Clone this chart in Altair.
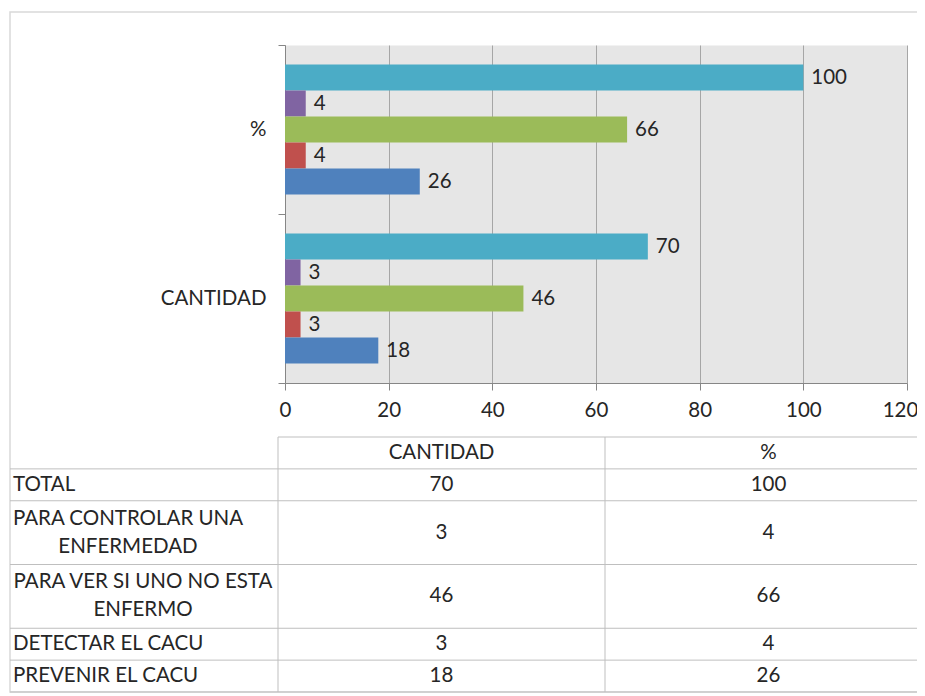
import altair as alt
import pandas as pd

# ---------------- data ----------------
categories = ["TOTAL", "PARA CONTROLAR UNA ENFERMEDAD", "PARA VER SI UNO NO ESTA ENFERMO",
              "DETECTAR EL CACU", "PREVENIR EL CACU"]
category_lines = ["TOTAL", "PARA CONTROLAR UNA\nENFERMEDAD", "PARA VER SI UNO NO ESTA\nENFERMO",
                  "DETECTAR EL CACU", "PREVENIR EL CACU"]
groups = ["%", "CANTIDAD"]
cantidad = [70, 3, 46, 3, 18]
porcentaje = [100, 4, 66, 4, 26]
table_columns = ["CANTIDAD", "%"]
x_ticks = [0, 20, 40, 60, 80, 100, 120]
colors = ["#4BACC6", "#8064A2", "#9BBB59", "#C0504D", "#4F81BD"]

FONT = "Lato"
FS = 20.5
TXT = "#262626"
LH = 28

# ---------------- bar chart ----------------
bar_rows = []
for g, vals in zip(groups, [porcentaje, cantidad]):
    for c, v in zip(categories, vals):
        bar_rows.append({"grupo": g, "serie": c, "valor": v})
bar_df = pd.DataFrame(bar_rows)

xenc = alt.X("valor:Q", scale=alt.Scale(domain=[0, 120], nice=False),
             axis=alt.Axis(values=x_ticks, title=None, grid=True, gridColor="#a6a6a6",
                           domainColor="#868686", tickColor="#868686", tickSize=7,
                           labelPadding=10, labelFontSize=FS, labelFont=FONT,
                           labelColor=TXT, labelFlush=False,
                           labelOffset={"condition": {"test": "datum.value == 120", "value": -7},
                                        "value": 0}))
yenc = alt.Y("grupo:N", sort=groups, scale=alt.Scale(paddingInner=0, paddingOuter=0),
             axis=alt.Axis(title=None, tickBand="extent", domainColor="#868686",
                           tickColor="#868686", tickSize=7, labelPadding=12,
                           labelFontSize=FS, labelFont=FONT, labelColor=TXT, grid=False))
yoff = alt.YOffset("serie:N", sort=categories,
                   scale=alt.Scale(paddingInner=0, paddingOuter=0.75))

bars = alt.Chart(bar_df).mark_bar().encode(
    x=xenc, y=yenc, yOffset=yoff,
    color=alt.Color("serie:N", sort=categories,
                    scale=alt.Scale(domain=categories, range=colors), legend=None),
)
bar_labels = alt.Chart(bar_df).mark_text(
    align="left", baseline="middle", dx=8, fontSize=FS, font=FONT, color=TXT
).encode(x=xenc, y=yenc, yOffset=yoff, text="valor:Q")

bar_layer = alt.layer(bars, bar_labels)

# ---------------- data table ----------------
line_counts = [s.count("\n") + 1 for s in category_lines]
bounds = [0]
for n in line_counts:
    bounds.append(bounds[-1] + n)
n_lines = bounds[-1]
centers = [(bounds[i] + bounds[i + 1]) / 2 for i in range(len(categories))]

TX = alt.Scale(domain=[0, 1, 3], range=[-275, -7, 647], zero=False, nice=False)
TY = alt.Scale(domain=[-1, n_lines], range=[392, 647], zero=False, nice=False)

h_rows = [{"tx": 1, "tx2": 3, "ty": -1}] + [{"tx": 0, "tx2": 3, "ty": b} for b in bounds]
h_df = pd.DataFrame(h_rows)
v_df = pd.DataFrame([{"tx": c, "ty": -1, "ty2": n_lines} for c in [1, 2]])

hlines = alt.Chart(h_df).mark_rule(color="#bfbfbf", strokeWidth=1).encode(
    x=alt.X("tx:Q", scale=TX, axis=None), x2="tx2:Q",
    y=alt.Y("ty:Q", scale=TY, axis=None))
vlines = alt.Chart(v_df).mark_rule(color="#bfbfbf", strokeWidth=1).encode(
    x=alt.X("tx:Q", scale=TX, axis=None),
    y=alt.Y("ty:Q", scale=TY, axis=None), y2="ty2:Q")

head_df = pd.DataFrame({"tx": [1.5, 2.5], "ty": [-0.5, -0.5], "t": table_columns})
val_rows = []
for i in range(len(categories)):
    val_rows.append({"tx": 1.5, "ty": centers[i], "t": str(cantidad[i])})
    val_rows.append({"tx": 2.5, "ty": centers[i], "t": str(porcentaje[i])})
val_df = pd.DataFrame(val_rows + head_df.to_dict("records"))

cell_text = alt.Chart(val_df).mark_text(
    align="center", baseline="middle", fontSize=FS, font=FONT, color=TXT
).encode(x=alt.X("tx:Q", scale=TX, axis=None), y=alt.Y("ty:Q", scale=TY, axis=None),
         text="t:N")

lab1 = pd.DataFrame([{"tx": 0, "ty": centers[i], "t": category_lines[i]}
                     for i in range(len(categories)) if line_counts[i] == 1])

labels_single = alt.Chart(lab1).mark_text(
    align="left", baseline="middle", dx=3, fontSize=FS, font=FONT, color=TXT
).encode(x=alt.X("tx:Q", scale=TX, axis=None), y=alt.Y("ty:Q", scale=TY, axis=None),
         text="t:N")

# wrapped labels: lines centred on each other, block starting at the cell's left edge
multi_shift = {1: -16, 2: -1}
multi_layers = []
for i in range(len(categories)):
    if line_counts[i] > 1:
        d = pd.DataFrame([{"tx": 0.5, "ty": centers[i], "t": category_lines[i]}])
        multi_layers.append(alt.Chart(d).mark_text(
            align="center", baseline="middle", lineBreak="\n", lineHeight=LH, dy=-LH / 2,
            dx=multi_shift.get(i, 0), fontSize=FS, font=FONT, color=TXT
        ).encode(x=alt.X("tx:Q", scale=TX, axis=None),
                 y=alt.Y("ty:Q", scale=TY, axis=None), text="t:N"))

frame = alt.Chart(pd.DataFrame({"k": [0]})).mark_rect(
    fillOpacity=0, stroke="#d9d9d9", strokeWidth=1.5
).encode(x=alt.value(-275), x2=alt.value(700), y=alt.value(-33), y2=alt.value(647))

table_layer = alt.layer(frame, hlines, vlines, cell_text, labels_single, *multi_layers)

chart = alt.layer(bar_layer, table_layer).resolve_scale(
    x="independent", y="independent"
).properties(
    width=622, height=338,
    autosize=alt.AutoSizeParams(type="none"),
    padding={"left": 277, "top": 37, "right": 10, "bottom": 310},
).configure_view(fill="#e6e6e6", strokeOpacity=0)

chart.save("out.html", embed_options={"renderer": "svg", "actions": False})
